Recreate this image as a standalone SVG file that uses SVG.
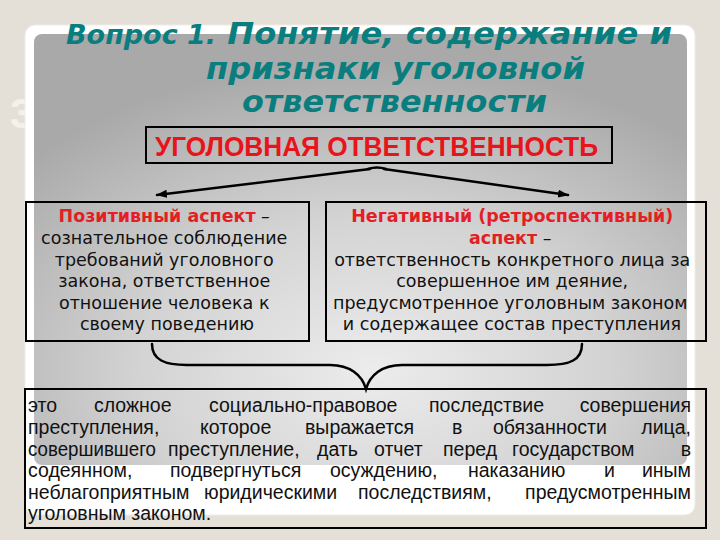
<svg xmlns="http://www.w3.org/2000/svg" width="720" height="540" viewBox="0 0 720 540">
  <defs>
    <radialGradient id="panelGrad" cx="0.52" cy="0.78" r="0.72">
      <stop offset="0" stop-color="#ECECEC"/>
      <stop offset="0.5" stop-color="#D3D3D3"/>
      <stop offset="1" stop-color="#A9A9A9"/>
    </radialGradient>
    <marker id="arrow" markerUnits="userSpaceOnUse" markerWidth="12" markerHeight="10" refX="10" refY="4" orient="auto">
      <path d="M0,0 L11,4 L0,8 Z" fill="#000"/>
    </marker>
    <style>
      .title { font-family: "DejaVu Sans", Verdana, sans-serif; font-weight: bold; font-style: italic; fill: #0A7E7E; }
      .box { fill: none; stroke: #000; stroke-width: 2; }
      .body { font-family: "DejaVu Sans", Verdana, sans-serif; font-size: 17.5px; fill: #111; }
      .red { fill: #E31E24; font-weight: bold; }
      .head { font-family: "Liberation Sans", Arial, sans-serif; font-weight: bold; font-size: 27px; fill: #E8141B; }
      .just { font-family: "Liberation Sans", Arial, sans-serif; font-size: 19.5px; fill: #111; }
      .end { text-anchor: end; }
      .conn { fill: none; stroke: #000; stroke-width: 2.5; stroke-linecap: round; }
    </style>
  </defs>

  <rect x="0" y="0" width="720" height="540" fill="#E5E0D7"/>
  <text x="10" y="128" font-family="Liberation Sans, Arial, sans-serif" font-weight="bold" font-size="43" fill="#F4F1EA">3</text>

  <g id="frame">
    <rect x="25" y="25" width="670" height="490" rx="10" fill="#FFFFFF" stroke="#EEECE6" stroke-width="1"/>
    <rect x="34" y="34" width="653" height="431" rx="8" fill="url(#panelGrad)"/>
  </g>

  <g id="title">
    <text class="title" x="66" y="44" textLength="606" lengthAdjust="spacingAndGlyphs"><tspan font-size="26">Вопрос 1.</tspan><tspan font-size="31"> Понятие, содержание и</tspan></text>
    <text class="title" font-size="31" x="206" y="79" textLength="379" lengthAdjust="spacingAndGlyphs">признаки уголовной</text>
    <text class="title" font-size="31" x="242" y="112" textLength="305" lengthAdjust="spacingAndGlyphs">ответственности</text>
  </g>

  <g id="node-main">
    <rect class="box" x="146" y="127" width="466" height="36"/>
    <text class="head" x="155" y="156" textLength="443" lengthAdjust="spacingAndGlyphs">УГОЛОВНАЯ ОТВЕТСТВЕННОСТЬ</text>
  </g>

  <g id="node-positive">
    <rect class="box" x="26" y="202" width="283" height="139"/>
    <text class="body" text-anchor="middle">
      <tspan x="167" y="222"><tspan class="red">Позитивный аспект</tspan> –</tspan>
      <tspan x="167" y="244">сознательное соблюдение</tspan>
      <tspan x="167" y="266">требований уголовного</tspan>
      <tspan x="167" y="287">закона, ответственное</tspan>
      <tspan x="167" y="309">отношение человека к</tspan>
      <tspan x="167" y="330">своему поведению</tspan>
    </text>
  </g>

  <g id="node-negative">
    <rect class="box" x="326" y="202" width="380" height="139"/>
    <text class="body" text-anchor="middle">
      <tspan x="515" y="222" class="red">Негативный (ретроспективный)</tspan>
      <tspan x="513" y="244"><tspan class="red">аспект</tspan> –</tspan>
      <tspan x="515" y="266">ответственность конкретного лица за</tspan>
      <tspan x="515" y="287">совершенное им деяние,</tspan>
      <tspan x="513" y="309">предусмотренное уголовным законом</tspan>
      <tspan x="512" y="330">и содержащее состав преступления</tspan>
    </text>
  </g>

  <g id="node-definition">
    <rect class="box" x="25" y="389" width="681" height="139"/>
    <text class="just" y="412"><tspan x="28">это</tspan><tspan x="94">сложное</tspan><tspan x="209">социально-правовое</tspan><tspan x="429">последствие</tspan><tspan x="691" class="end">совершения</tspan></text>
    <text class="just" y="434"><tspan x="28">преступления,</tspan><tspan x="200">которое</tspan><tspan x="305">выражается</tspan><tspan x="452">в</tspan><tspan x="493">обязанности</tspan><tspan x="691" class="end">лица,</tspan></text>
    <text class="just" y="456"><tspan x="28" textLength="128" lengthAdjust="spacingAndGlyphs">совершившего</tspan><tspan x="168">преступление,</tspan><tspan x="317">дать</tspan><tspan x="374">отчет</tspan><tspan x="443">перед</tspan><tspan x="512">государством</tspan><tspan x="691" class="end">в</tspan></text>
    <text class="just" y="477"><tspan x="28">содеянном,</tspan><tspan x="170">подвергнуться</tspan><tspan x="330">осуждению,</tspan><tspan x="468">наказанию</tspan><tspan x="604">и</tspan><tspan x="691" class="end">иным</tspan></text>
    <text class="just" y="499"><tspan x="28">неблагоприятным</tspan><tspan x="204">юридическими</tspan><tspan x="358">последствиям,</tspan><tspan x="691" class="end">предусмотренным</tspan></text>
    <text class="just" y="520"><tspan x="28">уголовным законом.</tspan></text>
  </g>

  <g id="connectors">
    <path class="conn" d="M368,169 Q377,166 386,169" />
    <path class="conn" d="M370,169 L157,195" marker-end="url(#arrow)"/>
    <path class="conn" d="M384,169 L568,195" marker-end="url(#arrow)"/>
    <path class="conn" d="M152,344 C152,360 165,365 187,365 L330,365 C350,365 362,375 366,389 C370,375 382,365 402,365 L547,365 C570,365 582,360 582,344"/>
  </g>
</svg>
